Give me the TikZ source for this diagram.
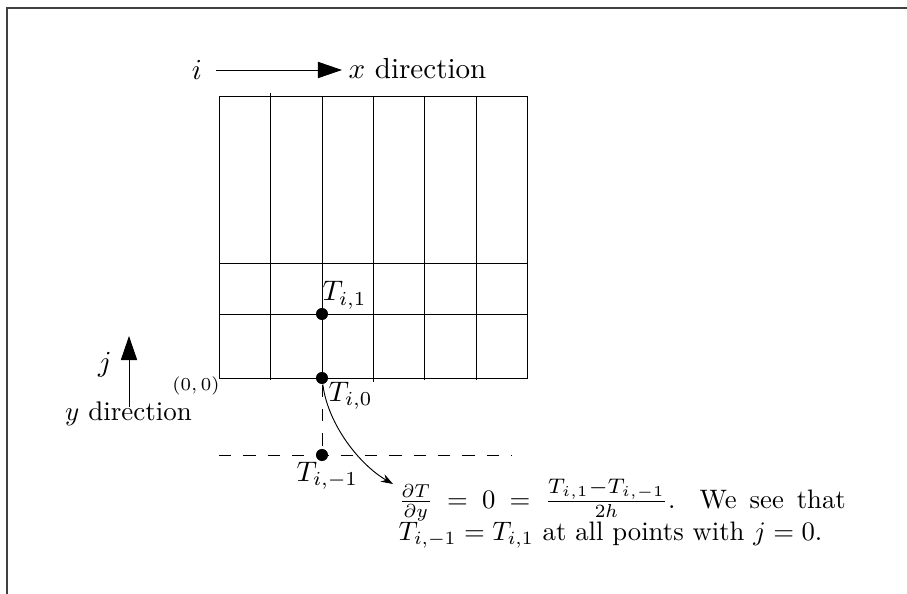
\documentclass[tikz,border=0pt]{standalone}
\usepackage{amsmath,amssymb}
\usetikzlibrary{arrows.meta,positioning,calc}

\begin{document}
\begin{tikzpicture}[
    x=0.382pt, y=-0.382pt,
    gridline/.style={line width=0.36pt},
    dashline/.style={line width=0.36pt, dash pattern=on 4.7pt off 4.6pt},
    dot/.style={circle, fill=black, inner sep=0pt, minimum size=4.6pt},
    axis/.style={-{Triangle[length=9.2pt,width=6.2pt]}, line width=0.36pt},
    curved/.style={-{Stealth[length=4.6pt,width=3.2pt]}, line width=0.36pt},
    tag/.style={inner sep=0pt},
  ]
  \useasboundingbox (0,0) rectangle (907,594);

  % Frame
  \draw[line width=0.45pt, color=black!75] (7,594) -- (7,8) -- (907,8);

  % Grid
  \draw[gridline] (219,96) rectangle (527,378);
  \foreach \gx/\gt/\gb in {270/93/380,322/96/378,373/96/382,424/96/380,476/96/380}
    \draw[gridline] (\gx,\gt) -- (\gx,\gb);
  \foreach \gy in {263,314}
    \draw[gridline] (219,\gy) -- (527,\gy);

  % Grid points
  \node[dot] (top)  at (322,314) {};
  \node[dot] (mid)  at (322,378) {};
  \node[dot] (ghost) at (322,455) {};

  % Ghost row
  \coordinate (ghostl) at (219,455);
  \coordinate (ghostr) at (512,455);
  \draw[dashline] (ghostl) -- (ghostr);
  \draw[dashline] (mid) -- (ghost);

  % Point labels
  \node[tag, scale=1.08, anchor=base west] (toplabel) at (322,301) {$T_{i,1}$};
  \node[tag, scale=1.08, anchor=base west] (midlabel) at (328,401) {$T_{i,0}$};
  \node[tag, scale=1.08, anchor=base west] (ghostlabel) at (296,481) {$T_{i,-1}$};
  \node[tag, anchor=base east, font=\scriptsize] (origin) at (220,391) {$(0,0)$};

  % Direction arrows
  \node[tag, scale=1.11, anchor=base] (ilabel) at (197,80) {$i$};
  \node[tag, scale=1.11, anchor=base west] (xlabel) at (348,79) {$x$ direction};
  \coordinate (istart) at (216,70);
  \coordinate (iend) at (342,70);
  \draw[axis] (istart) -- (iend);

  \node[tag, scale=1.03, anchor=base] (ylabel) at (128.5,420) {$y$ direction};
  \node[tag, scale=1.11, anchor=base] (jlabel) at (105,371) {$j$};
  \coordinate (jstart) at (129,407);
  \coordinate (jend) at (129,336);
  \draw[axis] (jstart) -- (jend);

  % Boundary condition note
  \node[tag, scale=1.02, anchor=north west, text width=167.5pt, align=justify] (note) at (398,479)
    {$\frac{\partial T}{\partial y} = 0 = \frac{\scalebox{1.13}{$\scriptstyle T_{i,1}-T_{i,-1}$}}{2h}$. We see that $T_{i,-1}=T_{i,1}$ at all points with $j=0$.};
  \coordinate (noteend) at (393,484);
  \draw[curved] (mid) .. controls (328,425) and (360,465) .. (noteend);
\end{tikzpicture}
\end{document}
